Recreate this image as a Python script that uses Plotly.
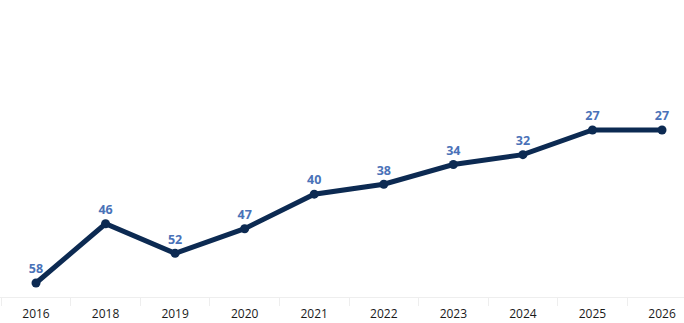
import plotly.graph_objects as go

years = ["2016", "2018", "2019", "2020", "2021", "2022", "2023", "2024", "2025", "2026"]
values = [58, 46, 52, 47, 40, 38, 34, 32, 27, 27]

fig = go.Figure()
fig.add_trace(go.Scatter(
    x=years, y=values,
    mode="lines+markers+text",
    line=dict(color="#0c2a52", width=5),
    marker=dict(color="#0c2a52", size=9),
    text=[str(v) for v in values],
    textposition="top center",
    textfont=dict(family="Open Sans, Arial, sans-serif", size=12.5, color="#4a72b8", weight="bold"),
    cliponaxis=False,
    hoverinfo="skip",
))

fig.update_layout(
    width=684, height=323,
    margin=dict(l=0, r=0, t=0, b=26),
    paper_bgcolor="white", plot_bgcolor="white",
    showlegend=False,
    xaxis=dict(
        type="category",
        range=[-0.5175, 9.316],
        showgrid=False, zeroline=False,
        showline=True, linecolor="#eeeeee", linewidth=1,
        ticks="outside", tickson="boundaries", ticklen=8, tickcolor="#eeeeee",
        ticklabelstandoff=6,
        tickfont=dict(family="Open Sans, Arial, sans-serif", size=12, color="#1a1a1a"),
    ),
    yaxis=dict(
        range=[60.84, 0.66],
        showgrid=False, zeroline=False,
        showticklabels=False, ticks="",
        showline=True, linecolor="#f0f0f0", linewidth=1,
    ),
)

fig.write_html("out.html")
